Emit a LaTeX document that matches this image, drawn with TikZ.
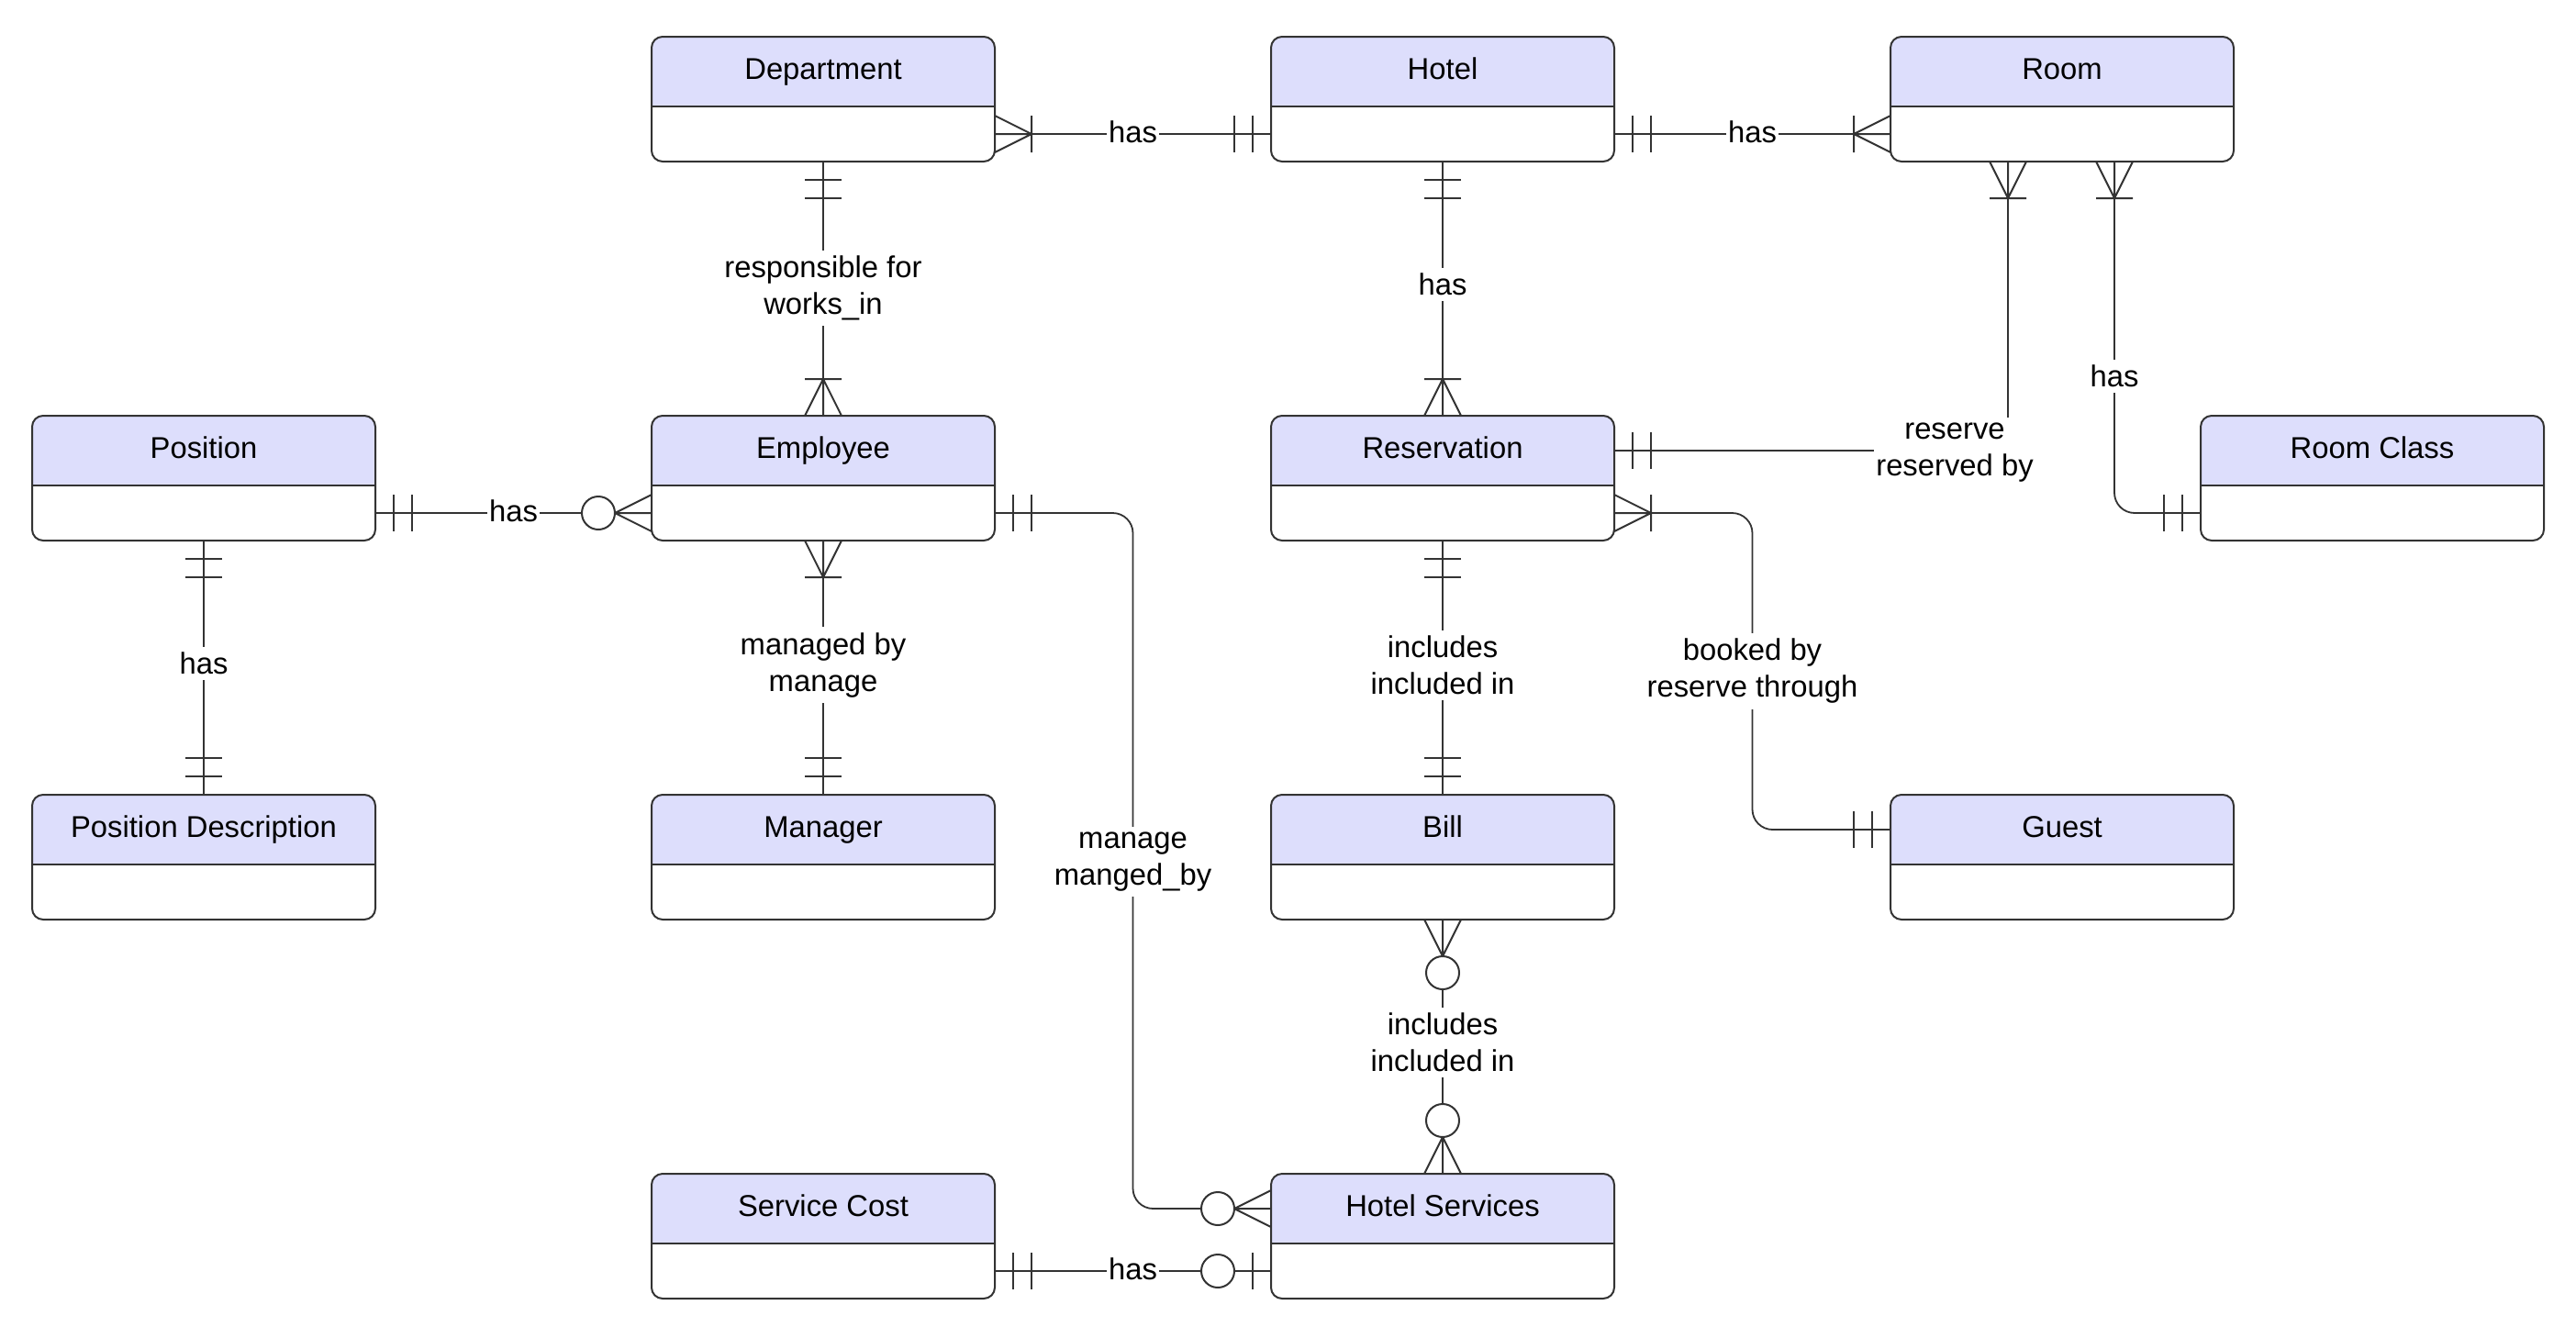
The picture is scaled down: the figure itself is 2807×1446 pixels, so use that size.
\documentclass[tikz,border=0pt]{standalone}
\usepackage{fontspec}
\setmainfont{Liberation Sans}
\usetikzlibrary{calc}
\definecolor{hdrfill}{RGB}{221,222,252}
\definecolor{linecol}{RGB}{51,51,51}
\tikzset{
  entbox/.style={minimum width=187pt, minimum height=68pt, inner sep=0pt, outer sep=0pt, draw=none},
  entline/.style={draw=linecol, line width=1pt},
  ttl/.style={font=\fontsize{16.4}{20}\selectfont, inner sep=0pt},
  conn/.style={draw=linecol, line width=0.9pt},
  sym/.style={draw=linecol, line width=1pt},
  lbl/.style={fill=white, font=\fontsize{16.4}{20}\selectfont, align=center, inner xsep=1pt, inner ysep=3pt},
  hlbl/.style={lbl, yshift=1pt},
}
\newcommand\erentity[4]{%
  \node[entbox] (#1) at (#2+187,#3+68) {};
  \fill[white,rounded corners=6pt] (#1.north west) rectangle (#1.south east);
  \fill[hdrfill,rounded corners=6pt] (#1.north west) rectangle ($(#1.north east)+(0,76)$);
  \fill[hdrfill] ($(#1.north west)+(0,40)$) rectangle ($(#1.north east)+(0,76)$);
  \draw[entline] ($(#1.north west)+(0,76)$) -- ($(#1.north east)+(0,76)$);
  \draw[entline,rounded corners=6pt] (#1.north west) rectangle (#1.south east);
  \node[ttl,anchor=base] (#1-t) at ($(#1.north)+(0,46)$) {#4};
}
\newcommand\symone[2]{\begin{scope}[shift={(#1)},rotate=#2]\draw[sym] (20,-20)--(20,20) (40,-20)--(40,20);\end{scope}}
\newcommand\symmany[2]{\begin{scope}[shift={(#1)},rotate=#2]\draw[sym] (0,-20)--(40,0)--(0,20) (40,-20)--(40,20) (0,0)--(40,0);\end{scope}}
\newcommand\symzeromany[2]{\begin{scope}[shift={(#1)},rotate=#2]\draw[sym] (0,-20)--(40,0)--(0,20) (0,0)--(40,0);\draw[sym,fill=white] (58,0) circle[radius=18];\end{scope}}
\newcommand\symzeroone[2]{\begin{scope}[shift={(#1)},rotate=#2]\draw[sym] (20,-20)--(20,20);\draw[sym,fill=white] (58,0) circle[radius=18];\end{scope}}
\begin{document}
\begin{tikzpicture}[x=0.5pt,y=-0.5pt]
\fill[white] (0,0) rectangle (2807,1446);
\useasboundingbox (0,0) rectangle (2807,1446);
% entities
\erentity{dept}{710}{40}{Department}
\erentity{hotel}{1385}{40}{Hotel}
\erentity{room}{2060}{40}{Room}
\erentity{pos}{35}{453}{Position}
\erentity{emp}{710}{453}{Employee}
\erentity{res}{1385}{453}{Reservation}
\erentity{rc}{2398}{453}{Room Class}
\erentity{pd}{35}{866}{Position Description}
\erentity{mgr}{710}{866}{Manager}
\erentity{bill}{1385}{866}{Bill}
\erentity{guest}{2060}{866}{Guest}
\erentity{sc}{710}{1279}{Service Cost}
\erentity{hs}{1385}{1279}{Hotel Services}
% coordinates
\coordinate (c1a) at ($(dept.east)+(0,38)$);
\coordinate (c1b) at ($(hotel.west)+(0,38)$);
\coordinate (c2a) at ($(hotel.east)+(0,38)$);
\coordinate (c2b) at ($(room.west)+(0,38)$);
\coordinate (c5a) at ($(room.south west)+(128,0)$);
\coordinate (c5b) at ($(res.east)+(0,-30)$);
\coordinate (c6a) at ($(room.south west)+(244,0)$);
\coordinate (c6b) at ($(rc.west)+(0,38)$);
\coordinate (c7a) at ($(pos.east)+(0,38)$);
\coordinate (c7b) at ($(emp.west)+(0,38)$);
\coordinate (c10a) at ($(emp.east)+(0,38)$);
\coordinate (c10b) at ($(hs.west)+(0,-30)$);
\coordinate (c10m) at ($(c10a)!0.5!(c10b)$);
\coordinate (c12a) at ($(res.east)+(0,38)$);
\coordinate (c12b) at ($(guest.west)+(0,-30)$);
\coordinate (c12m) at ($(c12a)!0.5!(c12b)$);
\coordinate (c14a) at ($(sc.east)+(0,38)$);
\coordinate (c14b) at ($(hs.west)+(0,38)$);
% connectors
\draw[conn] (c1a) -- node[hlbl] (l1) {has} (c1b);
\draw[conn] (c2a) -- node[hlbl] (l2) {has} (c2b);
\draw[conn] (dept.south) -- node[lbl,pos=0.497] (l3) {responsible for\\works\_in} (emp.north);
\draw[conn] (hotel.south) -- node[lbl,pos=0.484] (l4) {has} (res.north);
\draw[conn] (c5a) |- (c5b);
\node[lbl] (l5) at ($(c5b)+(371,2)$) {reserve\\reserved by};
\draw[conn,rounded corners=11pt] (c6a) |- (c6b);
\node[lbl] (l6) at ($(c6a)+(0,234)$) {has};
\draw[conn] (c7a) -- node[hlbl] (l7) {has} (c7b);
\draw[conn] (pos.south) -- node[lbl,pos=0.484] (l8) {has} (pd.north);
\draw[conn] (emp.south) -- node[lbl,pos=0.49] (l9) {managed by\\manage} (mgr.north);
\draw[conn,rounded corners=11pt] (c10a) -| (c10m) |- (c10b);
\node[lbl] (l10) at ($(c10m)+(0,1)$) {manage\\manged\_by};
\draw[conn] (res.south) -- node[lbl,pos=0.49] (l11) {includes\\included in} (bill.north);
\draw[conn,rounded corners=11pt] (c12a) -| (c12m) |- (c12b);
\node[lbl] (l12) at ($(c12m)+(0,0)$) {booked by\\reserve through};
\draw[conn] (bill.south) -- node[lbl,pos=0.484] (l13) {includes\\included in} (hs.north);
\draw[conn] (c14a) -- node[hlbl] (l14) {has} (c14b);
% symbols
\symmany{c1a}{0}
\symone{c1b}{180}
\symone{c2a}{0}
\symmany{c2b}{180}
\symone{dept.south}{270}
\symmany{emp.north}{90}
\symone{hotel.south}{270}
\symmany{res.north}{90}
\symmany{c5a}{270}
\symone{c5b}{0}
\symmany{c6a}{270}
\symone{c6b}{180}
\symone{c7a}{0}
\symzeromany{c7b}{180}
\symone{pos.south}{270}
\symone{pd.north}{90}
\symmany{emp.south}{270}
\symone{mgr.north}{90}
\symone{c10a}{0}
\symzeromany{c10b}{180}
\symone{res.south}{270}
\symone{bill.north}{90}
\symmany{c12a}{0}
\symone{c12b}{180}
\symzeromany{bill.south}{270}
\symzeromany{hs.north}{90}
\symone{c14a}{0}
\symzeroone{c14b}{180}
\end{tikzpicture}
\end{document}
